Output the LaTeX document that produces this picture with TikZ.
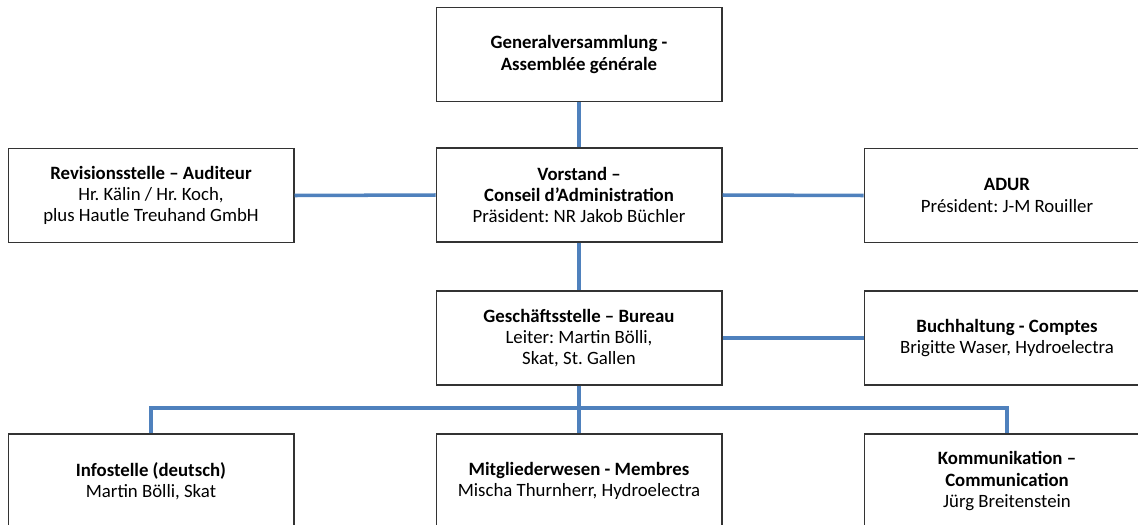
\documentclass[tikz,border=0pt]{standalone}
\usepackage{fontspec}
\setmainfont{Carlito}
\frenchspacing
\usetikzlibrary{positioning}
\definecolor{orgblue}{RGB}{79,129,189}

\tikzset{
  box/.style={draw=black!80, line width=0.6pt, fill=white, rectangle,
    minimum width=5.72cm, minimum height=1.88cm, align=center,
    font=\fontsize{10.7}{12.1}\selectfont},
  link/.style={draw=orgblue, line width=2pt},
}

\begin{document}
\begin{tikzpicture}[x=0.02cm,y=-0.02cm]
\useasboundingbox (0,0) rectangle (1138,524);
% boxes
\node[box] (gv) at (579,54.5) {\textbf{Generalversammlung -}\\\textbf{Assemblée générale}};
\node[box] (vorstand) at (579,195) {\textbf{Vorstand –}\\\textbf{Conseil d’Administration}\\Präsident: NR Jakob Büchler};
\node[box] (revision) at (151,195.5) {\textbf{Revisionsstelle – Auditeur}\\Hr. Kälin / Hr. Koch,\\plus Hautle Treuhand GmbH};
\node[box] (adur) at (1007,195.5) {\textbf{ADUR}\\Président: J-M Rouiller};
\node[box] (gs) at (579,338) {\textbf{Geschäftsstelle – Bureau}\\Leiter: Martin Bölli,\\Skat, St. Gallen};
\node[box] (buch) at (1007,338) {\textbf{Buchhaltung - Comptes}\\Brigitte Waser, Hydroelectra};
\node[box] (info) at (151,481) {\textbf{Infostelle (deutsch)}\\Martin Bölli, Skat};
\node[box] (mitglieder) at (579,481) {\textbf{Mitgliederwesen - Membres}\\Mischa Thurnherr, Hydroelectra};
\node[box] (komm) at (1007,481) {\textbf{Kommunikation –}\\\textbf{Communication}\\Jürg Breitenstein};
% connectors
\draw[link] (gv.south) -- (vorstand.north);
\draw[link] (vorstand.west) -- (revision.east);
\draw[link] (vorstand.east) -- (adur.west);
\draw[link] (vorstand.south) -- (gs.north);
\draw[link] (gs.east) -- (buch.west);
\coordinate (bus) at (579,408);
\draw[link] (gs.south) -- (bus) -- (mitglieder.north);
\draw[link] (info.north) |- (bus) -| (komm.north);
\end{tikzpicture}
\end{document}
